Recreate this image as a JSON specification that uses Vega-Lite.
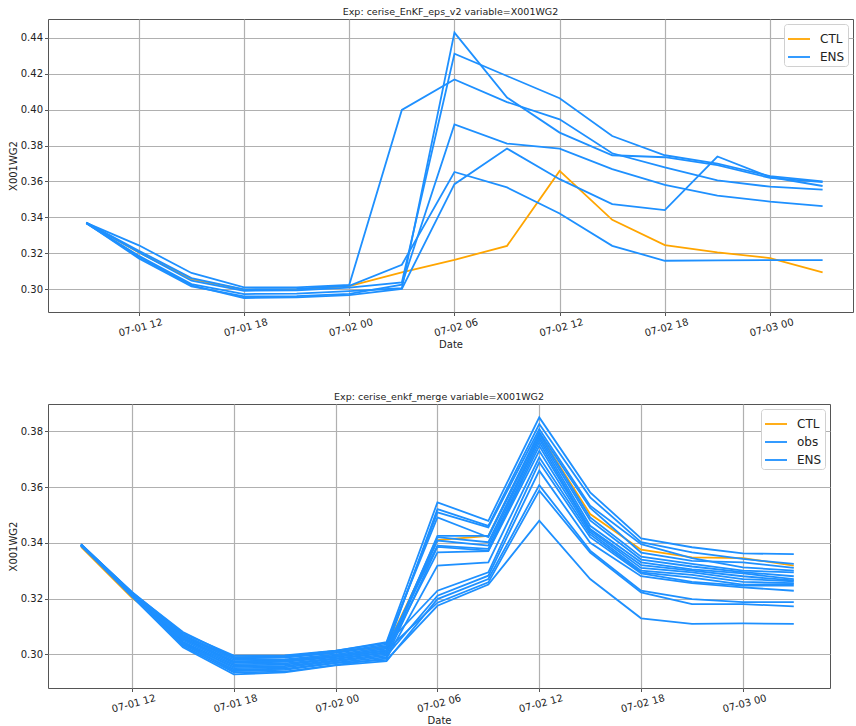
{
  "$schema": "https://vega.github.io/schema/vega-lite/v6.json",
  "padding": {"left": 7, "top": 6, "right": 0, "bottom": 0},
  "spacing": 40,
  "config": {
    "font": "DejaVu Sans",
    "view": {"stroke": "#555", "strokeWidth": 1},
    "axis": {
      "grid": true, "gridColor": "#b0b0b0", "gridWidth": 1.2, "gridOpacity": 1,
      "domain": false, "tickColor": "#555", "tickSize": 3.5, "tickWidth": 1,
      "labelFontSize": 10, "labelColor": "#222", "labelPadding": 2,
      "titleFontSize": 10, "titleFontWeight": "normal", "titleColor": "#222"
    },
    "title": {"fontSize": 9.5, "fontWeight": "normal", "color": "#222", "anchor": "middle", "offset": 3},
    "legend": {
      "orient": "top-right", "offset": 5, "padding": 3, "title": null,
      "fillColor": "white", "strokeColor": "#d0d0d0", "cornerRadius": 3,
      "symbolType": "M-1,0L1,0", "symbolSize": 484, "symbolStrokeWidth": 2,
      "labelFontSize": 12, "labelColor": "#222", "labelOffset": 9, "rowPadding": -6
    },
    "line": {"strokeWidth": 1.8}
  },
  "resolve": {"scale": {"x": "independent", "y": "independent", "color": "independent"}},
  "datasets": {
    "top": [
      {"t": "2022-07-01T09:00:00", "CTL": 0.337, "E1": 0.337, "E2": 0.3368, "E3": 0.337, "E4": 0.3369, "E5": 0.3368, "E6": 0.3371},
      {"t": "2022-07-01T12:00:00", "CTL": 0.3205, "E1": 0.3245, "E2": 0.3187, "E3": 0.3206, "E4": 0.3172, "E5": 0.318, "E6": 0.3215},
      {"t": "2022-07-01T15:00:00", "CTL": 0.3057, "E1": 0.3091, "E2": 0.3029, "E3": 0.3048, "E4": 0.3017, "E5": 0.3022, "E6": 0.3063},
      {"t": "2022-07-01T18:00:00", "CTL": 0.2998, "E1": 0.3011, "E2": 0.2974, "E3": 0.2992, "E4": 0.2961, "E5": 0.2952, "E6": 0.3},
      {"t": "2022-07-01T21:00:00", "CTL": 0.3, "E1": 0.3011, "E2": 0.2976, "E3": 0.2995, "E4": 0.2962, "E5": 0.2955, "E6": 0.3003},
      {"t": "2022-07-02T00:00:00", "CTL": 0.3018, "E1": 0.3025, "E2": 0.299, "E3": 0.301, "E4": 0.2975, "E5": 0.2968, "E6": 0.302},
      {"t": "2022-07-02T03:00:00", "CTL": 0.3094, "E1": 0.3998, "E2": 0.3006, "E3": 0.3039, "E4": 0.3026, "E5": 0.3003, "E6": 0.3137},
      {"t": "2022-07-02T06:00:00", "CTL": 0.3164, "E1": 0.4168, "E2": 0.4428, "E3": 0.4311, "E4": 0.3917, "E5": 0.3585, "E6": 0.3653},
      {"t": "2022-07-02T09:00:00", "CTL": 0.3242, "E1": 0.4042, "E2": 0.4067, "E3": 0.4187, "E4": 0.3811, "E5": 0.3783, "E6": 0.3567},
      {"t": "2022-07-02T12:00:00", "CTL": 0.3659, "E1": 0.3946, "E2": 0.3872, "E3": 0.4063, "E4": 0.3783, "E5": 0.3613, "E6": 0.3422},
      {"t": "2022-07-02T15:00:00", "CTL": 0.3387, "E1": 0.3757, "E2": 0.3746, "E3": 0.3853, "E4": 0.3669, "E5": 0.3474, "E6": 0.3242},
      {"t": "2022-07-02T18:00:00", "CTL": 0.3246, "E1": 0.3678, "E2": 0.3735, "E3": 0.3746, "E4": 0.3581, "E5": 0.3441, "E6": 0.3159},
      {"t": "2022-07-02T21:00:00", "CTL": 0.3206, "E1": 0.3606, "E2": 0.3691, "E3": 0.37, "E4": 0.3522, "E5": 0.3739, "E6": 0.3161},
      {"t": "2022-07-03T00:00:00", "CTL": 0.3174, "E1": 0.3571, "E2": 0.362, "E3": 0.363, "E4": 0.3488, "E5": 0.3625, "E6": 0.3163},
      {"t": "2022-07-03T03:00:00", "CTL": 0.3094, "E1": 0.3555, "E2": 0.3596, "E3": 0.3601, "E4": 0.3463, "E5": 0.3575, "E6": 0.3163}
    ],
    "bot": [
      {"t": "2022-07-01T09:00:00", "CTL": 0.3385, "obs": 0.3391, "E1": 0.3393, "E2": 0.3392, "E3": 0.3395, "E4": 0.339, "E5": 0.3394, "E6": 0.3393, "E7": 0.339, "E8": 0.3392, "E9": 0.3394, "E10": 0.3391, "E11": 0.3393, "E12": 0.339, "E13": 0.3392, "E14": 0.3394, "E15": 0.3391},
      {"t": "2022-07-01T12:00:00", "CTL": 0.3203, "obs": 0.3216, "E1": 0.3222, "E2": 0.3218, "E3": 0.322, "E4": 0.3214, "E5": 0.3224, "E6": 0.3212, "E7": 0.3219, "E8": 0.321, "E9": 0.3215, "E10": 0.3208, "E11": 0.3221, "E12": 0.3211, "E13": 0.3207, "E14": 0.3217, "E15": 0.3209},
      {"t": "2022-07-01T15:00:00", "CTL": 0.3065, "obs": 0.3055, "E1": 0.308, "E2": 0.306, "E3": 0.307, "E4": 0.3045, "E5": 0.3075, "E6": 0.304, "E7": 0.3065, "E8": 0.3035, "E9": 0.305, "E10": 0.303, "E11": 0.3068, "E12": 0.3042, "E13": 0.3025, "E14": 0.3058, "E15": 0.3038},
      {"t": "2022-07-01T18:00:00", "CTL": 0.2988, "obs": 0.297, "E1": 0.299, "E2": 0.2975, "E3": 0.2985, "E4": 0.296, "E5": 0.2995, "E6": 0.2955, "E7": 0.298, "E8": 0.2945, "E9": 0.2965, "E10": 0.2935, "E11": 0.2988, "E12": 0.295, "E13": 0.2928, "E14": 0.2972, "E15": 0.294},
      {"t": "2022-07-01T21:00:00", "CTL": 0.2992, "obs": 0.2973, "E1": 0.2992, "E2": 0.2978, "E3": 0.2988, "E4": 0.2963, "E5": 0.2996, "E6": 0.2958, "E7": 0.2982, "E8": 0.2948, "E9": 0.2967, "E10": 0.2938, "E11": 0.299, "E12": 0.2953, "E13": 0.2935, "E14": 0.2975, "E15": 0.2944},
      {"t": "2022-07-02T00:00:00", "CTL": 0.3012, "obs": 0.299, "E1": 0.3012, "E2": 0.2995, "E3": 0.3005, "E4": 0.2983, "E5": 0.3013, "E6": 0.2978, "E7": 0.3, "E8": 0.297, "E9": 0.2985, "E10": 0.2962, "E11": 0.3008, "E12": 0.2975, "E13": 0.296, "E14": 0.2993, "E15": 0.2968},
      {"t": "2022-07-02T03:00:00", "CTL": 0.3025, "obs": 0.3012, "E1": 0.3044, "E2": 0.302, "E3": 0.303, "E4": 0.3005, "E5": 0.304, "E6": 0.3, "E7": 0.3025, "E8": 0.299, "E9": 0.3008, "E10": 0.2985, "E11": 0.3035, "E12": 0.2995, "E13": 0.2975, "E14": 0.3015, "E15": 0.298},
      {"t": "2022-07-02T06:00:00", "CTL": 0.341, "obs": 0.342, "E1": 0.3545, "E2": 0.3521, "E3": 0.3509, "E4": 0.3425, "E5": 0.3491, "E6": 0.3408, "E7": 0.339, "E8": 0.3385, "E9": 0.3366, "E10": 0.3318, "E11": 0.3228, "E12": 0.321, "E13": 0.3198, "E14": 0.3185, "E15": 0.3174},
      {"t": "2022-07-02T09:00:00", "CTL": 0.3425, "obs": 0.3402, "E1": 0.3479, "E2": 0.3461, "E3": 0.3455, "E4": 0.3425, "E5": 0.342, "E6": 0.339, "E7": 0.3378, "E8": 0.3372, "E9": 0.337, "E10": 0.333, "E11": 0.3294, "E12": 0.3282, "E13": 0.327, "E14": 0.3258, "E15": 0.325},
      {"t": "2022-07-02T12:00:00", "CTL": 0.379, "obs": 0.378, "E1": 0.385, "E2": 0.3826, "E3": 0.3808, "E4": 0.3797, "E5": 0.379, "E6": 0.3772, "E7": 0.3761, "E8": 0.3748, "E9": 0.373, "E10": 0.3707, "E11": 0.3689, "E12": 0.3659, "E13": 0.3607, "E14": 0.3587, "E15": 0.3479},
      {"t": "2022-07-02T15:00:00", "CTL": 0.3503, "obs": 0.348, "E1": 0.3581, "E2": 0.3563, "E3": 0.3533, "E4": 0.3525, "E5": 0.3491, "E6": 0.3461, "E7": 0.345, "E8": 0.3445, "E9": 0.3438, "E10": 0.343, "E11": 0.342, "E12": 0.34, "E13": 0.3372, "E14": 0.3365, "E15": 0.327},
      {"t": "2022-07-02T18:00:00", "CTL": 0.3375, "obs": 0.334, "E1": 0.3416, "E2": 0.3402, "E3": 0.3395, "E4": 0.3365, "E5": 0.335, "E6": 0.333, "E7": 0.332, "E8": 0.331, "E9": 0.33, "E10": 0.3294, "E11": 0.329, "E12": 0.328, "E13": 0.3228, "E14": 0.3222, "E15": 0.3129},
      {"t": "2022-07-02T21:00:00", "CTL": 0.3348, "obs": 0.3315, "E1": 0.3384, "E2": 0.3366, "E3": 0.3345, "E4": 0.3335, "E5": 0.3324, "E6": 0.3305, "E7": 0.33, "E8": 0.3294, "E9": 0.3285, "E10": 0.3275, "E11": 0.326, "E12": 0.3255, "E13": 0.3198, "E14": 0.318, "E15": 0.3109},
      {"t": "2022-07-03T00:00:00", "CTL": 0.3345, "obs": 0.3295, "E1": 0.3362, "E2": 0.3342, "E3": 0.3312, "E4": 0.333, "E5": 0.33, "E6": 0.329, "E7": 0.328, "E8": 0.327, "E9": 0.326, "E10": 0.325, "E11": 0.3246, "E12": 0.324, "E13": 0.3187, "E14": 0.318, "E15": 0.3111},
      {"t": "2022-07-03T03:00:00", "CTL": 0.3318, "obs": 0.328, "E1": 0.3359, "E2": 0.3324, "E3": 0.33, "E4": 0.331, "E5": 0.3294, "E6": 0.327, "E7": 0.3265, "E8": 0.3262, "E9": 0.3255, "E10": 0.3252, "E11": 0.3246, "E12": 0.3228, "E13": 0.3187, "E14": 0.3172, "E15": 0.3109}
    ]
  },
  "vconcat": [
    {
      "title": "Exp: cerise_EnKF_eps_v2 variable=X001WG2",
      "width": 805,
      "height": 293,
      "data": {"name": "top"},
      "encoding": {
        "x": {
          "field": "t", "type": "temporal",
          "scale": {"domain": [{"year": 2022, "month": 7, "date": 1, "hours": 6, "minutes": 49}, {"year": 2022, "month": 7, "date": 3, "hours": 4, "minutes": 44}]},
          "axis": {"title": "Date", "format": "%m-%d %H", "values": [{"year": 2022, "month": 7, "date": 1, "hours": 12}, {"year": 2022, "month": 7, "date": 1, "hours": 18}, {"year": 2022, "month": 7, "date": 2, "hours": 0}, {"year": 2022, "month": 7, "date": 2, "hours": 6}, {"year": 2022, "month": 7, "date": 2, "hours": 12}, {"year": 2022, "month": 7, "date": 2, "hours": 18}, {"year": 2022, "month": 7, "date": 3, "hours": 0}], "labelAngle": -15, "labelAlign": "center", "labelBaseline": "top", "labelPadding": 7, "titlePadding": 2}
        },
        "y": {
          "field": "v", "type": "quantitative",
          "scale": {"domain": [0.2874, 0.4504], "nice": false, "zero": false},
          "axis": {"title": "X001WG2", "values": [0.3, 0.32, 0.34, 0.36, 0.38, 0.4, 0.42, 0.44], "format": ".2f", "titlePadding": 2}
        }
      },
      "layer": [
        {
          "transform": [{"fold": ["CTL"], "as": ["member", "v"]}],
          "mark": {"type": "line"},
          "encoding": {
            "detail": {"field": "member"},
            "color": {"datum": "CTL", "scale": {"domain": ["CTL", "ENS"], "range": ["#FFA500", "#1E90FF"]}}
          }
        },
        {
          "transform": [{"fold": ["E1", "E2", "E3", "E4", "E5", "E6"], "as": ["member", "v"]}],
          "mark": {"type": "line"},
          "encoding": {
            "detail": {"field": "member"},
            "color": {"datum": "ENS"}
          }
        }
      ]
    },
    {
      "title": "Exp: cerise_enkf_merge variable=X001WG2",
      "width": 782,
      "height": 284,
      "data": {"name": "bot"},
      "encoding": {
        "x": {
          "field": "t", "type": "temporal",
          "scale": {"domain": [{"year": 2022, "month": 7, "date": 1, "hours": 7, "minutes": 3}, {"year": 2022, "month": 7, "date": 3, "hours": 5, "minutes": 8}]},
          "axis": {"title": "Date", "format": "%m-%d %H", "values": [{"year": 2022, "month": 7, "date": 1, "hours": 12}, {"year": 2022, "month": 7, "date": 1, "hours": 18}, {"year": 2022, "month": 7, "date": 2, "hours": 0}, {"year": 2022, "month": 7, "date": 2, "hours": 6}, {"year": 2022, "month": 7, "date": 2, "hours": 12}, {"year": 2022, "month": 7, "date": 2, "hours": 18}, {"year": 2022, "month": 7, "date": 3, "hours": 0}], "labelAngle": -15, "labelAlign": "center", "labelBaseline": "top", "labelPadding": 7, "titlePadding": 2}
        },
        "y": {
          "field": "v", "type": "quantitative",
          "scale": {"domain": [0.2879, 0.3898], "nice": false, "zero": false},
          "axis": {"title": "X001WG2", "values": [0.3, 0.32, 0.34, 0.36, 0.38], "format": ".2f", "titlePadding": 2}
        }
      },
      "layer": [
        {
          "transform": [{"fold": ["CTL"], "as": ["member", "v"]}],
          "mark": {"type": "line"},
          "encoding": {
            "detail": {"field": "member"},
            "color": {"datum": "CTL", "scale": {"domain": ["CTL", "obs", "ENS"], "range": ["#FFA500", "#1E90FF", "#1E90FF"]}}
          }
        },
        {
          "transform": [{"fold": ["obs"], "as": ["member", "v"]}],
          "mark": {"type": "line"},
          "encoding": {
            "detail": {"field": "member"},
            "color": {"datum": "obs"}
          }
        },
        {
          "transform": [{"fold": ["E1", "E2", "E3", "E4", "E5", "E6", "E7", "E8", "E9", "E10", "E11", "E12", "E13", "E14", "E15"], "as": ["member", "v"]}],
          "mark": {"type": "line"},
          "encoding": {
            "detail": {"field": "member"},
            "color": {"datum": "ENS"}
          }
        }
      ]
    }
  ]
}
